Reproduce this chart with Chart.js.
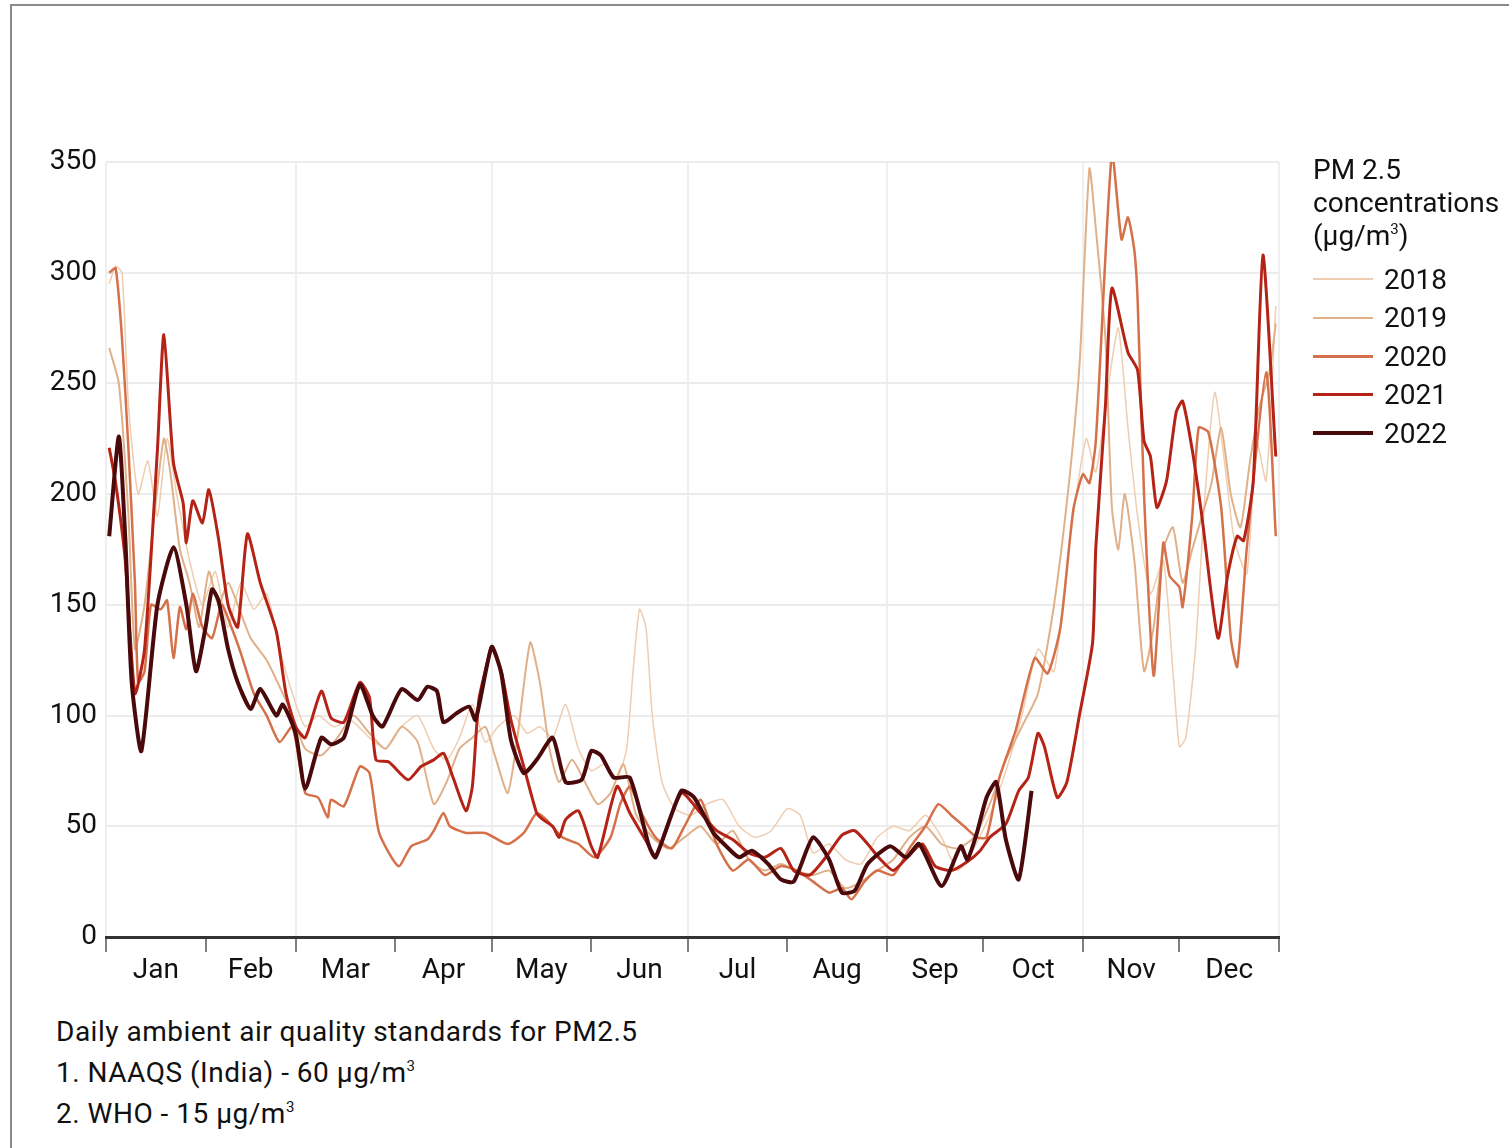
<!DOCTYPE html>
<html>
<head>
<meta charset="utf-8">
<script src="https://cdn.jsdelivr.net/npm/chart.js@4.4.1/dist/chart.umd.min.js"></script>
<style>
    body { margin: 0; background: #fff; font-family: Roboto, "Noto Sans", sans-serif; color: #111; }
    #frame { position: absolute; left: 10px; top: 4px; width: 1700px; height: 1300px; border: 2px solid #8a8a8a; }
    #chart-box { position: absolute; left: 0; top: 0; width: 1509px; height: 1000px; }
    #legend { position: absolute; left: 1313px; top: 153px; font-size: 28px; }
    #legend .title { line-height: 33px; margin-bottom: 8px; }
    #legend .item { height: 38.5px; display: flex; align-items: center; }
    #legend .swatch { width: 60px; margin-right: 11px; }
    #notes { position: absolute; left: 56px; top: 1011px; font-size: 28px; line-height: 41px; letter-spacing: 0.5px; }
    sup { font-size: 15px; vertical-align: 11px; line-height: 0; }
</style>
</head>
<body>
<div id="frame"></div>
<div id="chart-box"><canvas id="pm-chart"></canvas></div>
<div id="legend"></div>
<div id="notes">
    <div>Daily ambient air quality standards for PM2.5</div>
    <div>1. NAAQS (India) - 60 µg/m<sup>3</sup></div>
    <div>2. WHO - 15 µg/m<sup>3</sup></div>
</div>
<script>
// month axis (day of year)
const monthNames = ["Jan", "Feb", "Mar", "Apr", "May", "Jun", "Jul", "Aug", "Sep", "Oct", "Nov", "Dec"];
const monthStarts = [0, 31, 59, 90, 120, 151, 181, 212, 243, 273, 304, 334, 365];
const yTicks = [0, 50, 100, 150, 200, 250, 300, 350];

const years = ["2018", "2019", "2020", "2021", "2022"];
const colors = ["#efcdb0", "#e0b089", "#d5714a", "#b52317", "#4a090b"];
const widths = [1.5, 2, 2.5, 3, 4];

// daily PM2.5 readings (day of year / value)
const days2018 = [1, 3, 5, 7, 10, 13, 16, 19, 22, 26, 30,
    34, 38, 42, 46, 50, 54, 58,
    62, 66, 71, 76, 82, 87,
    92, 97, 102, 106, 110, 114, 118,
    122, 127, 131, 135, 139, 143, 147,
    151, 155, 159, 162, 164, 166, 168, 170, 173, 177,
    182, 187, 192, 197, 202, 207,
    212, 216, 220, 225, 230, 235, 240,
    245, 250, 255, 260, 265, 270,
    275, 280, 285, 290, 295, 300,
    305, 308, 312, 315, 318, 321, 325, 329, 332,
    334, 336, 339, 342, 345, 348, 351, 355, 358, 361, 364];
const pm2018 = [295, 303, 300, 240, 200, 215, 190, 225, 200, 170, 150,
    165, 140, 160, 148, 155, 130, 110,
    95, 100, 95, 98, 90, 85,
    95, 100, 85, 80, 90, 105, 88,
    95, 100, 92, 95, 90, 105, 85,
    75, 78, 72, 85, 120, 148, 140, 100, 70, 58,
    55, 60, 62, 50, 45, 48,
    58, 55, 38, 42, 35, 33, 45,
    50, 48, 55, 45, 30, 40,
    55, 75, 100, 130, 120, 180,
    225, 210, 250, 275, 230, 190, 155, 170, 120,
    86, 90, 130, 200, 246, 215, 180, 164, 224, 206, 285];

const days2019 = [1, 4, 7, 9, 12, 15, 18, 20, 23, 26, 29,
    32, 35, 38, 41, 45, 50, 55,
    58, 62, 67, 72, 77, 82, 87,
    92, 97, 102, 106, 110, 114, 118,
    121, 125, 128, 132, 135, 138, 141, 145, 149,
    153, 157, 161, 165, 170, 175, 180,
    185, 190, 195, 200, 205, 210,
    215, 220, 225, 230, 235, 240,
    245, 250, 255, 260, 265, 270,
    275, 280, 285, 290, 295, 300, 303,
    306, 308, 311, 313, 315, 317, 320, 323, 326, 329, 332,
    335, 338, 341, 344, 347, 350, 353, 356, 359, 362, 364];
const pm2019 = [266, 250, 190, 130, 150, 190, 225, 210, 175, 160, 140,
    165, 150, 160, 150, 135, 125, 110,
    100, 85, 82, 90, 100, 92, 85,
    95, 88, 60, 70, 85, 90, 95,
    82, 65, 90, 133, 115, 85, 70, 80, 70,
    60, 65, 78, 55, 45, 40, 45,
    50, 42, 48, 35, 30, 33,
    30, 28, 30, 22, 25, 30,
    35, 45, 50, 42, 40, 45,
    60, 80, 95, 110, 150, 210, 260,
    347, 320, 270, 194, 175, 200, 170, 120, 140, 175, 185,
    160, 175, 190, 205, 230, 200, 185, 215, 240, 255, 277];

const days2020 = [1, 3, 5, 7, 9, 10, 12, 14, 17, 19, 21, 23, 25, 27, 30,
    33, 36, 39, 42, 46, 50, 54, 58,
    62, 66, 69, 70, 74, 79, 82, 85,
    91, 95, 100, 102, 105, 107, 112, 118,
    125, 130, 134, 137, 142, 147,
    152, 157, 160, 163, 167, 171, 176, 180,
    185, 190, 195, 200, 205, 210,
    215, 220, 225, 229, 232, 236, 240,
    245, 250, 255, 259, 263, 267, 271,
    274, 278, 283, 289, 293, 297, 301,
    304, 306, 308, 313, 316, 318, 320, 321, 323, 326, 329, 331,
    334, 335, 338, 340, 343, 347, 350, 352, 355, 361, 364];
const pm2020 = [300, 302, 270, 220, 160, 115, 120, 150, 148, 152, 126, 149, 139, 155, 140,
    135, 150, 140, 128, 110, 100, 88, 95,
    65, 63, 54, 62, 59, 77, 74, 47,
    32, 41, 44, 48, 56, 50, 47, 47,
    42, 47, 56, 53, 45, 42,
    36, 45, 60, 68, 55, 45, 40, 50,
    62, 42, 30, 35, 28, 32,
    30, 25, 20, 22, 17, 25, 30,
    28, 40, 50, 60, 55, 50, 45,
    45, 72, 93, 126, 119, 140, 193,
    209, 205, 224, 354, 315, 325, 310, 288, 200, 118, 178, 163,
    158, 149, 190, 230, 228, 194, 135, 122, 176, 255, 181];

const days2021 = [1, 3, 6, 9, 12, 16, 18, 21, 24, 25, 27, 30,
    32, 35, 38, 41, 44, 48, 53, 56,
    59, 62, 67, 70, 74, 79, 82, 84, 88,
    94, 98, 102, 105, 108, 112, 114, 116, 119,
    120, 123, 126, 130, 134, 136, 139, 141, 143, 147,
    151, 153, 159, 163, 169, 171, 179,
    185, 190, 195, 200, 205, 210,
    214, 219, 224, 229, 233, 237, 241,
    245, 250, 254, 258, 263, 268, 272,
    275, 280, 284, 287, 290, 292, 296, 299, 303,
    307, 308, 311, 313, 318, 321, 323, 325, 327, 330, 333,
    335, 338, 341, 346, 349, 352, 354, 357, 360, 364];
const pm2021 = [221, 205, 170, 110, 130, 220, 272, 214, 196, 178, 197, 187,
    202, 180, 150, 140, 182, 160, 138, 110,
    95, 90, 111, 99, 97, 115, 108, 80, 79,
    71, 77, 80, 83, 72, 57, 68, 107, 126,
    131, 120, 98, 77, 56, 53, 50, 45, 53, 57,
    41, 36, 68, 56, 41, 36, 65,
    56, 48, 44, 38, 36, 40,
    30, 28, 36, 46, 48, 42, 35,
    30, 37, 42, 32, 30, 34, 39,
    45, 51, 66, 72, 92, 86, 63, 70, 101,
    133, 176, 240, 293, 264, 256, 224, 217, 194, 206, 237,
    242, 220, 190, 135, 163, 181, 179, 206, 308, 217];

const days2022 = [1, 4, 6, 8, 11, 16, 21, 25, 28,
    31, 33, 35, 38, 41, 45, 48, 53, 55,
    59, 62, 67, 70, 74, 79, 83, 86,
    92, 97, 100, 103, 105, 109, 113, 115,
    120, 123, 126, 130, 134, 139, 143, 148,
    151, 154, 158, 163, 169, 171, 179,
    183, 189, 193, 197, 201, 206, 210,
    214, 220, 225, 229, 233, 237,
    244, 249, 253, 260, 266, 268, 271,
    274, 277, 280, 284, 288];
const pm2022 = [181, 226, 180, 115, 84, 150, 176, 150, 120,
    140, 157, 152, 130, 115, 103, 112, 100, 105,
    92, 67, 90, 87, 90, 114, 100, 95,
    112, 107, 113, 111, 97, 101, 104, 98,
    131, 119, 89, 74, 80, 90, 70, 71,
    84, 82, 72, 72, 41, 36, 66,
    63, 47, 41, 36, 39, 33, 26,
    25, 45, 35, 20, 21, 33,
    41, 36, 42, 23, 41, 35, 47,
    63, 70, 44, 26, 66];

const seriesDays = [days2018, days2019, days2020, days2021, days2022];
const seriesValues = [pm2018, pm2019, pm2020, pm2021, pm2022];

// month labels sit in the middle of each month, tick marks at month starts
const monthMids = monthNames.map((m, i) => (monthStarts[i] + monthStarts[i + 1]) / 2);
const xTickValues = monthStarts.concat(monthMids).sort((a, b) => a - b);

function labelFor(value) {
    const i = monthMids.indexOf(value);
    return i >= 0 ? monthNames[i] : "";
}

// vertical grid only every second month
function isGridMonth(value) {
    const i = monthStarts.indexOf(value);
    return i >= 0 && i % 2 === 0;
}

function initPmChart() {
    const datasets = years.map((year, i) => ({
        label: year,
        data: seriesDays[i].map((d, j) => ({ x: d, y: seriesValues[i][j] })),
        borderColor: colors[i],
        borderWidth: widths[i],
        pointRadius: 0,
        tension: 0.2,
        borderJoinStyle: "round",
        fill: false,
        order: years.length - i
    }));

    const ctx = document.getElementById("pm-chart").getContext("2d");

    new Chart(ctx, {
        type: "line",
        data: { datasets: datasets },
        options: {
            responsive: true,
            maintainAspectRatio: false,
            animation: false,
            layout: { padding: { left: 0, top: 162, right: 230, bottom: 0 } },
            plugins: {
                legend: { display: false },
                tooltip: { enabled: false }
            },
            scales: {
                x: {
                    type: "linear",
                    min: 0,
                    max: 365,
                    afterBuildTicks: (scale) => {
                        scale.ticks = xTickValues.map(v => ({ value: v }));
                    },
                    afterFit: (scale) => { scale.height = 63; },
                    ticks: {
                        autoSkip: false,
                        maxRotation: 0,
                        padding: 2,
                        color: "#111",
                        font: { family: "Roboto", size: 28 },
                        callback: (value) => labelFor(value)
                    },
                    grid: {
                        color: (c) => isGridMonth(c.tick && c.tick.value) ? "#efefef" : "rgba(0,0,0,0)",
                        lineWidth: 2,
                        drawTicks: true,
                        tickLength: 15,
                        tickWidth: 1.5,
                        tickColor: (c) => monthStarts.includes(c.tick && c.tick.value) ? "#555" : "rgba(0,0,0,0)"
                    },
                    border: { display: true, color: "#333", width: 3 }
                },
                y: {
                    min: 0,
                    max: 350,
                    afterBuildTicks: (scale) => {
                        scale.ticks = yTicks.map(v => ({ value: v }));
                    },
                    afterFit: (scale) => { scale.width = 106; },
                    ticks: {
                        padding: 9,
                        color: "#111",
                        font: { family: "Roboto", size: 28 }
                    },
                    grid: { color: "#ececec", lineWidth: 2, drawTicks: false },
                    border: { display: false }
                }
            }
        }
    });
}

// legend built from the same year/colour lists
function renderLegend() {
    const legend = document.getElementById("legend");
    let html = `<div class="title">PM 2.5<br>concentrations<br>(µg/m<sup>3</sup>)</div>`;
    years.forEach((year, i) => {
        html += `
        <div class="item">
            <span class="swatch" style="height:${Math.max(2, Math.round(widths[i]))}px; background:${colors[i]}"></span>
            <span>${year}</span>
        </div>`;
    });
    legend.innerHTML = html;
}

initPmChart();
renderLegend();
</script>
</body>
</html>
